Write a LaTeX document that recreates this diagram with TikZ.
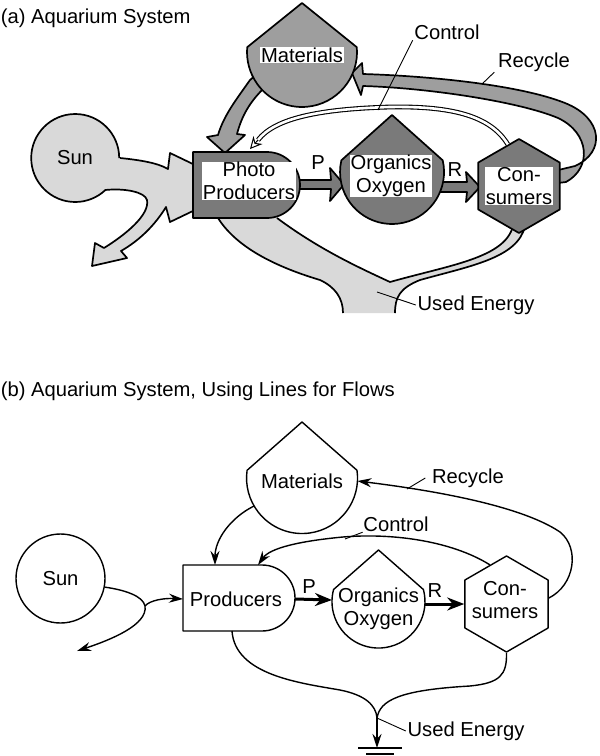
\documentclass[tikz,border=0pt]{standalone}
\usepackage{fontspec}
\setmainfont{Liberation Sans}
\usetikzlibrary{arrows.meta,shapes.geometric}
\definecolor{lightfill}{gray}{0.85}
\definecolor{medfill}{gray}{0.62}
\definecolor{darkfill}{gray}{0.48}
\begin{document}
\begin{tikzpicture}[x=1pt,y=-1pt,line join=round,
  lbl/.style={font=\fontsize{20.2}{22.8}\selectfont,align=center,inner sep=0.6pt},
  wlbl/.style={lbl,fill=white},
  fat/.style={line width=1.7pt},
  lin/.style={line width=1.4pt},
  arr/.style={lin,-{Stealth[length=14pt,width=9pt]}},
  bigarr/.style={line width=3pt,-{Stealth[length=17pt,width=13pt]}},
  lead/.style={line width=0.9pt},
  hexa/.style={regular polygon,regular polygon sides=6,regular polygon rotate=30,inner sep=0pt}
]
\useasboundingbox (0,0) rectangle (600,756);

% titles
\node[lbl,anchor=west] (titleA) at (0,18) {(a) Aquarium System};
\node[lbl,anchor=west] (titleB) at (0,391) {(b) Aquarium System, Using Lines for Flows};

%%%%%%%%%%%%%%%% (a) %%%%%%%%%%%%%%%%
% sun flow band (fill)
\fill[lightfill] (75,158) -- (120,158) .. controls (140,160) and (158,163) .. (168,169) -- (170,153) -- (195,165) -- (195,210) -- (170,222) -- (166,207) .. controls (155,225) and (140,240) .. (121,251) -- (127,258) -- (92,266) -- (95,243) -- (104,248) .. controls (125,235) and (150,215) .. (147,200) .. controls (145,192) and (125,188) .. (105,190) -- cycle;
% sun
\node[lbl,circle,fill=lightfill,minimum size=88pt,inner sep=0pt] (sunA) at (75,158) {Sun};
\draw[fat] (sunA.east) arc[start angle=0,end angle=-313.2,radius=44];
\draw[fat] (120,158) .. controls (140,160) and (158,163) .. (168,169) -- (170,153) -- (195,165) (195,210) -- (170,222) -- (166,207) .. controls (155,225) and (140,240) .. (121,251) -- (127,258) -- (92,266) -- (95,243) -- (104,248) .. controls (125,235) and (150,215) .. (147,200) .. controls (145,192) and (125,188) .. (105,190);

% materials -> producers band
\draw[fat,fill=medfill] (262,70) -- (250,80) .. controls (236,100) and (224,115) .. (218,135) -- (207,137) -- (225,153) -- (245,135) -- (237,134) .. controls (242,115) and (250,102) .. (264,88) -- (272,75) -- cycle;

% recycle band
\draw[fat,fill=medfill] (363,74) .. controls (430,76) and (520,85) .. (565,103) .. controls (603,118) and (606,152) .. (575,166) -- (550,172) -- (550,184) -- (566,182) .. controls (592,168) and (590,133) .. (558,118) .. controls (520,102) and (430,88) .. (363,86) -- (361,95) -- (352,73) -- (362,63) -- cycle;

% P and R bands
\draw[fat,fill=darkfill] (285,180) -- (331,180) -- (330,168) -- (344,184.5) -- (330,201) -- (331,189) -- (285,189) -- cycle;
\draw[fat,fill=darkfill] (435,182) -- (467,182) -- (466,172) -- (480,187) -- (466,202) -- (467,192) -- (435,192) -- cycle;

% used energy band
\fill[lightfill] (220,210) -- (218,218) .. controls (235,245) and (270,265) .. (320,280) .. controls (335,287) and (343,298) .. (343,313) -- (395,313) .. controls (395,297) and (400,288) .. (420,280) .. controls (470,266) and (518,258) .. (525,226) -- (513,226) .. controls (505,258) and (450,265) .. (390,282) .. controls (360,268) and (320,250) .. (277,218) -- (277,210) -- cycle;
\draw[fat] (218,218) .. controls (235,245) and (270,265) .. (320,280) .. controls (335,287) and (343,298) .. (343,313);
\draw[fat] (395,313) .. controls (395,297) and (400,288) .. (420,280) .. controls (470,266) and (518,258) .. (525,226);
\draw[fat] (513,226) .. controls (505,258) and (450,265) .. (390,282) .. controls (360,268) and (320,250) .. (277,218);

% nodes (a)
\draw[fat,fill=medfill] (302,3) -- (356.8,47.2) arc[start angle=-5,end angle=185,radius=55] -- cycle;
\node[wlbl] (matA) at (302,55) {Materials};

\draw[fat,fill=darkfill] (193,152) -- (267,152) arc[start angle=-90,end angle=90,radius=33] -- (193,218) -- cycle;
\node[wlbl] (prodA) at (249,181) {Photo\\Producers};

\draw[fat,fill=darkfill] (392,115) -- (442.7,160.3) arc[start angle=-13,end angle=193,radius=52] -- cycle;
\node[wlbl] (orgA) at (391,176) {Organics\\Oxygen};

\node[hexa,draw,fat,fill=darkfill,minimum size=94pt] (consA) at (519,186) {};
\node[wlbl] (consAtxt) at (519,186) {Con-\\sumers};

% control (a)
\coordinate (ctrlAend) at (258,140);
\coordinate (ctrlAtip) at (250,149);
\draw[line width=1.1pt,double=white,double distance=2.6pt] (consA.105) .. controls (490,115) and (450,106) .. (390,107) .. controls (320,109) and (275,118) .. (ctrlAend);
\draw[line width=1pt,-{Stealth[fill=white,length=12pt,width=12pt]}] (ctrlAend) -- (ctrlAtip);

% labels (a)
\node[lbl] (pA) at (318,163) {P};
\node[lbl] (rA) at (455,170) {R};
\node[lbl] (ctrlA) at (447,32) {Control};
\draw[lead] ([xshift=-1pt]ctrlA.south west) -- (378,110);
\node[lbl] (recA) at (534,62) {Recycle};
\draw[lead] ([xshift=-3pt]recA.south west) -- (482,84);
\node[lbl] (ueA) at (476,305) {Used Energy};
\draw[lead] ([xshift=-1pt]ueA.west) -- (377,292);

%%%%%%%%%%%%%%%% (b) %%%%%%%%%%%%%%%%
\node[lbl,circle,draw,lin,minimum size=89pt,inner sep=0pt] (sunB) at (60.5,578.5) {Sun};

\draw[lin] (183,565) -- (262,565) arc[start angle=-90,end angle=90,radius=33] -- (183,631) -- cycle;
\node[lbl] (prodB) at (236,599) {Producers};
\coordinate (prodBW) at (183,599);
\coordinate (prodBE) at (295,599);
\coordinate (prodBt1) at (215,565);
\coordinate (prodBt2) at (258,565);
\coordinate (prodBbot) at (232,631);

\draw[lin] (302,422) -- (357,470.3) arc[start angle=-8,end angle=188,radius=55.5] -- cycle;
\node[lbl] (matB) at (302,481) {Materials};
\coordinate (matBR) at (357.4,481);
\coordinate (matBLL) at (254,506);

\draw[lin] (378.5,550) -- (423.4,589.5) arc[start angle=-15,end angle=195,radius=46.5] -- cycle;
\node[lbl] (orgB) at (378.5,609) {Organics\\Oxygen};
\coordinate (orgBW) at (332,600);
\coordinate (orgBE) at (425,604);

\node[hexa,draw,lin,minimum size=96pt] (consB) at (506.5,604) {};
\node[lbl] (consBtxt) at (505,600) {Con-\\sumers};

% flows (b)
\coordinate (splitB) at (145,606);
\coordinate (sunOutB) at (77,651);
\draw[lin] (sunB.-11) .. controls (125,590) and (143,596) .. (splitB);
\draw[arr] (splitB) .. controls (150,600) and (165,598) .. (prodBW);
\draw[arr] (splitB) .. controls (148,625) and (110,640) .. (sunOutB);

\draw[bigarr] (prodBE) -- (orgBW);
\draw[bigarr] (orgBE) -- (consB.west);

\draw[arr] (consB.113) .. controls (450,540) and (390,533) .. (343,537) .. controls (300,541) and (270,548) .. (prodBt2);
\draw[arr] (consB.8) .. controls (575,585) and (580,548) .. (560,532) .. controls (520,505) and (430,490) .. (matBR);
\draw[arr] (matBLL) .. controls (230,518) and (215,540) .. (prodBt1);

\coordinate (ueJoin) at (377,718);
\coordinate (gnd) at (377,748);
\draw[lin] (prodBbot) .. controls (235,675) and (300,683) .. (340,690) .. controls (365,695) and (376,705) .. (ueJoin);
\draw[lin] (consB.south) .. controls (507,675) and (500,683) .. (470,686) .. controls (400,690) and (380,700) .. (ueJoin);
\draw[arr] (ueJoin) -- (gnd);
\draw[lin] (358,748) -- (402,748);
\draw[lin] (366,754) -- (394,754);

% labels (b)
\node[lbl] (pB) at (309,587) {P};
\node[lbl] (rB) at (435,591) {R};
\node[lbl] (ctrlB) at (396,524) {Control};
\draw[lead] (ctrlB.south west) -- (345,539);
\node[lbl] (recB) at (468,478) {Recycle};
\draw[lead] ([xshift=-6pt]recB.west) -- (407,489);
\node[lbl] (ueB) at (466,731) {Used Energy};
\draw[lead] ([xshift=-1pt]ueB.west) -- (ueJoin);
\end{tikzpicture}
\end{document}
